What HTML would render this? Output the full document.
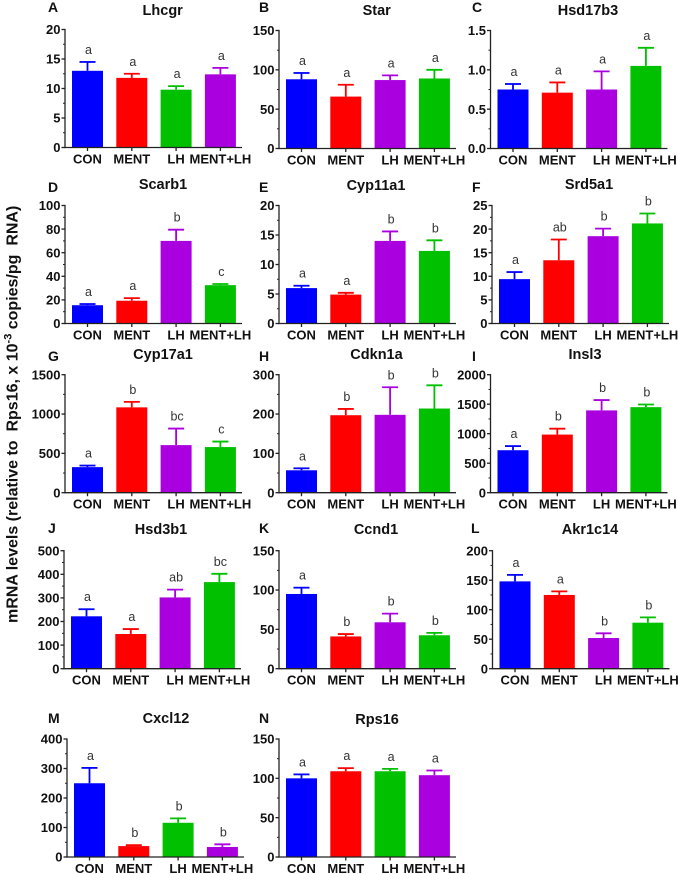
<!DOCTYPE html>
<html lang="en">
<head>
<meta charset="utf-8">
<title>mRNA levels by gene</title>
<style>
html,body{margin:0;padding:0;background:#fff;}
svg{display:block;}
text{font-family:"Liberation Sans",Arial,sans-serif;}
</style>
</head>
<body>
<svg id="chart" xmlns="http://www.w3.org/2000/svg" width="678" height="874" viewBox="0 0 678 874">
  <text transform="translate(17.5,623) rotate(-90)" font-size="16" font-weight="700" fill="#111">mRNA levels (relative to&#160; Rps16, x 10<tspan dy="-6" font-size="11">-3</tspan><tspan dy="6"> copies/pg&#160; RNA)</tspan></text>
</svg>
<script>
const panelTitles = ["Lhcgr","Star","Hsd17b3","Scarb1","Cyp11a1","Srd5a1","Cyp17a1","Cdkn1a","Insl3","Hsd3b1","Ccnd1","Akr1c14","Cxcl12","Rps16"];
const panelLetters = ["A","B","C","D","E","F","G","H","I","J","K","L","M","N"];
const categories = ["CON","MENT","LH","MENT+LH"];
const yTicks = [
  [0,5,10,15,20],[0,50,100,150],[0,0.5,1,1.5],
  [0,20,40,60,80,100],[0,5,10,15,20],[0,5,10,15,20,25],
  [0,500,1000,1500],[0,100,200,300],[0,500,1000,1500,2000],
  [0,100,200,300,400,500],[0,50,100,150],[0,50,100,150,200],
  [0,100,200,300,400],[0,50,100,150]
];
const meanValues = [
  [13.0,11.8,9.8,12.4],[88,66,87,89],[0.75,0.71,0.75,1.05],
  [15.5,19.3,70,32.5],[6.0,4.9,14.0,12.3],[9.4,13.4,18.5,21.2],
  [325,1085,605,580],[57,197,198,214],[720,985,1395,1450],
  [222,147,302,367],[95,41,59,42.5],[148,125,52,78],
  [250,37,116,34],[100,109,109,104]
];
const errorTops = [
  [14.5,12.5,10.4,13.5],[96,81,93,100],[0.82,0.84,0.98,1.28],
  [16.5,21.5,79.5,33.5],[6.4,5.2,15.6,14.1],[10.9,17.8,20.1,23.3],
  [345,1155,815,650],[62,213,268,273],[790,1085,1570,1495],
  [252,168,335,402],[103,44,70,45.5],[159,131,60,87],
  [302,40,131,43],[105,113,112,110]
];
const significance = [
  ["a","a","a","a"],["a","a","a","a"],["a","a","a","a"],
  ["a","a","b","c"],["a","a","b","b"],["a","ab","b","b"],
  ["a","b","bc","c"],["a","b","b","b"],["a","b","b","b"],
  ["a","a","ab","bc"],["a","b","b","b"],["a","a","b","b"],
  ["a","b","b","b"],["a","a","a","a"]
];
const lhFirstGreen = ["Lhcgr","Cxcl12","Rps16"];

/* layout, kept apart from the data */
const panelOrigins = [
  [65,147.5],[279,148.5],[490.5,148.5],
  [65,323.5],[279,323.5],[492,323.5],
  [65,492.7],[279,492.7],[490.5,492.7],
  [64,668.7],[279,668.7],[492.5,668.7],
  [67,857],[279,857]
];
const titleBaselines = [15,15,15,189,190,189,359,359,359,534,534,534,723,724];
const titleCenters = [162.7,376.7,588,163,376,589,163,376.5,585,161,376,590,166,377];
const letterPositions = [
  [48,12],[259,12],[472,12],[48,192],[259,192],[472,192],
  [48,361],[259,361],[472,361],[48,533],[259,533],[471,533],[48,723],[259,723]
];
const plotHeight = 118;
const axisLength = 177;
const firstBar = 22.5;
const barStep = 44.3;
const barWidth = 31;
const capHalf = 8;

const BLUE = "#0000ff", RED = "#ff0000", GREEN = "#00c000", PURPLE = "#aa00e0";
const NS = "http://www.w3.org/2000/svg";
const svg = document.getElementById("chart");

function mk(parent, tag, attrs, txt) {
  const el = document.createElementNS(NS, tag);
  for (const k in attrs) el.setAttribute(k, attrs[k]);
  if (txt !== undefined) el.textContent = txt;
  parent.appendChild(el);
  return el;
}

panelTitles.forEach(function (title, p) {
  const ox = panelOrigins[p][0], oy = panelOrigins[p][1];
  const ticks = yTicks[p];
  const yMax = ticks[ticks.length - 1];
  const step = ticks[1] - ticks[0];
  const yScale = function (v) { return oy - (v / yMax) * plotHeight; };
  const xScale = function (i) { return ox + firstBar + i * barStep; };
  const slug = title.toLowerCase();

  const g = mk(svg, "g", {});
  
  

  const letter = mk(g, "text", {x: letterPositions[p][0], y: letterPositions[p][1], "font-size": 14, "font-weight": 700, fill: "#111"}, panelLetters[p]);
  
  

  const ttl = mk(g, "text", {x: titleCenters[p], y: titleBaselines[p], "text-anchor": "middle", "font-size": 14.5, "font-weight": 700, fill: "#111"}, title);
  
  

  categories.forEach(function (cat, i) {
    const cx = xScale(i);
    const mean = meanValues[p][i];
    const top = errorTops[p][i];
    let color = [BLUE, RED, PURPLE, GREEN][i];
    if (lhFirstGreen.indexOf(title) >= 0) color = [BLUE, RED, GREEN, PURPLE][i];

    const stem = mk(g, "line", {x1: cx, x2: cx, y1: yScale(mean), y2: yScale(top), stroke: color, "stroke-width": 1.8});
    
    

    const cap = mk(g, "line", {x1: cx - capHalf, x2: cx + capHalf, y1: yScale(top), y2: yScale(top), stroke: color, "stroke-width": 1.8});
    
    

    const bar = mk(g, "rect", {x: cx - barWidth / 2, y: yScale(mean), width: barWidth, height: oy - yScale(mean), fill: color});
    
    

    const sig = mk(g, "text", {x: cx + 1, y: yScale(top) - 8, "text-anchor": "middle", "font-size": 12.5, fill: "#333"}, significance[p][i]);
    
    

    const xt = mk(g, "line", {x1: cx, x2: cx, y1: oy, y2: oy + 3.5, stroke: "#222", "stroke-width": 1.3});
    
    

    const xl = mk(g, "text", {x: cx, y: oy + 16, "text-anchor": "middle", "font-size": 13, "font-weight": 700, fill: "#111"}, cat);
    
    
  });

  ticks.forEach(function (v, i) {
    const y = yScale(v);
    const t = mk(g, "line", {x1: ox - 3.5, x2: ox, y1: y, y2: y, stroke: "#222", "stroke-width": 1.3});
    
    

    const lab = mk(g, "text", {x: ox - 4.5, y: y + 4.7, "text-anchor": "end", "font-size": 13, "font-weight": 700, fill: "#111"}, step < 1 ? v.toFixed(1) : String(v));
    
    

    if (i < ticks.length - 1) {
      const my = yScale(v + step / 2);
      const m = mk(g, "line", {x1: ox - 2, x2: ox, y1: my, y2: my, stroke: "#222", "stroke-width": 1});
      
      
    }
  });

  const ya = mk(g, "line", {x1: ox, x2: ox, y1: oy - plotHeight - 0.6, y2: oy + 0.6, stroke: "#222", "stroke-width": 1.3});
  
  

  const xa = mk(g, "line", {x1: ox - 0.6, x2: ox + axisLength, y1: oy, y2: oy, stroke: "#222", "stroke-width": 1.3});
  
  
});
</script>
</body>
</html>
